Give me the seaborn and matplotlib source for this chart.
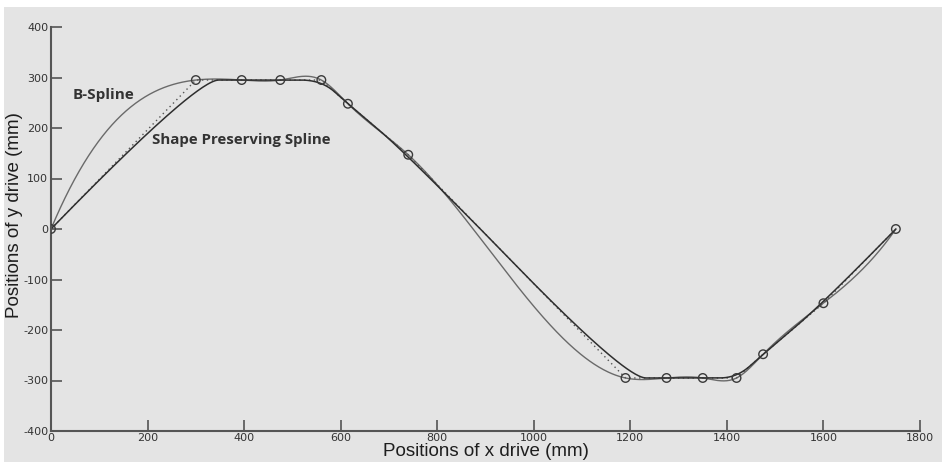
import numpy as np
import pandas as pd
import matplotlib
matplotlib.use("Agg")
import matplotlib.pyplot as plt
from matplotlib.patches import Rectangle
import seaborn as sns

# Data points (circles)
x_pts = [0, 300, 395, 475, 560, 615, 740, 1190, 1275, 1350, 1420, 1475, 1600, 1750]
y_pts = [0, 295, 295, 295, 295, 248, 147, -295, -295, -295, -295, -248, -147, 0]
x_ticks = [0, 200, 400, 600, 800, 1000, 1200, 1400, 1600, 1800]
y_ticks = [-400, -300, -200, -100, 0, 100, 200, 300, 400]
label_bspline = "B-Spline"
label_shape = "Shape Preserving Spline"


def spline_nak(t, v, s):
    """Not-a-knot cubic interpolating spline of the data points."""
    t = np.asarray(t, float); v = np.asarray(v, float)
    n = len(t); h = np.diff(t)
    A = np.zeros((n, n)); b = np.zeros(n)
    for i in range(1, n - 1):
        A[i, i - 1] = h[i - 1]; A[i, i] = 2 * (h[i - 1] + h[i]); A[i, i + 1] = h[i]
        b[i] = 6 * ((v[i + 1] - v[i]) / h[i] - (v[i] - v[i - 1]) / h[i - 1])
    A[0, 0] = -1 / h[0]; A[0, 1] = 1 / h[0] + 1 / h[1]; A[0, 2] = -1 / h[1]
    A[-1, -3] = -1 / h[-2]; A[-1, -2] = 1 / h[-2] + 1 / h[-1]; A[-1, -1] = -1 / h[-1]
    M = np.linalg.solve(A, b)
    i = np.clip(np.searchsorted(t, s) - 1, 0, n - 2)
    hh = h[i]
    a = (t[i + 1] - s) / hh; bb = (s - t[i]) / hh
    return a * v[i] + bb * v[i + 1] + ((a ** 3 - a) * M[i] + (bb ** 3 - bb) * M[i + 1]) * hh ** 2 / 6


def quad_bspline(px, py, k=60):
    """Clamped uniform quadratic B-spline using the data points as control points."""
    P = np.column_stack([px, py]).astype(float)
    mids = (P[1:-2] + P[2:-1]) / 2
    starts = [P[0]] + list(mids)
    ends = list(mids) + [P[-1]]
    out = []
    u = np.linspace(0, 1, k)[:, None]
    for a, c, e in zip(starts, P[1:-1], ends):
        out.append((1 - u) ** 2 * a + 2 * u * (1 - u) * c + u ** 2 * e)
    return np.vstack(out)


xs = np.linspace(0, 1750, 900)
df_spline = pd.DataFrame({"x": xs, "y": spline_nak(x_pts, y_pts, xs)})
bs = quad_bspline(x_pts, y_pts)
df_bs = pd.DataFrame({"x": bs[:, 0], "y": bs[:, 1]})
df_pts = pd.DataFrame({"x": x_pts, "y": y_pts})

sns.set_style("ticks")
plt.rcParams["font.family"] = ["DejaVu Sans"]
BG = "#e4e4e4"

fig = plt.figure(figsize=(9.42, 4.62), dpi=100)
fig.patch.set_facecolor("white")
fig.patches.append(Rectangle((4 / 942, 0), 1, 455 / 462, transform=fig.transFigure,
                             facecolor=BG, edgecolor="none", zorder=-10))
ax = fig.add_axes([51 / 942, 31 / 462, 869 / 942, 404 / 462])
ax.set_facecolor(BG)

sns.lineplot(data=df_spline, x="x", y="y", sort=False, estimator=None, ax=ax,
             color="#6a6a6a", lw=1.0)
sns.lineplot(data=df_pts, x="x", y="y", sort=False, estimator=None, ax=ax,
             color="#555555", lw=1.0, ls=(0, (1, 2.5)))
sns.lineplot(data=df_bs, x="x", y="y", sort=False, estimator=None, ax=ax,
             color="#2e2e2e", lw=1.1)
sns.scatterplot(data=df_pts, x="x", y="y", ax=ax, s=38, marker="o",
                facecolor="none", edgecolor="#3a3a3a", linewidth=1.0, zorder=5)

ax.set_xlim(0, 1800)
ax.set_ylim(-400, 400)
ax.set_xticks(x_ticks)
ax.set_yticks(y_ticks)
tick_font = ["Liberation Sans Narrow", "DejaVu Sans"]
ax.set_xticklabels([str(v) for v in x_ticks], family=tick_font, fontsize=8, color="#333333")
ax.set_yticklabels([str(v) for v in y_ticks], family=tick_font, fontsize=8, color="#333333")
ax.tick_params(direction="in", length=8, width=1.2, color="#555555", pad=2)
ax.tick_params(axis="x", pad=1.5)
for side in ["top", "right"]:
    ax.spines[side].set_visible(False)
for side in ["left", "bottom"]:
    ax.spines[side].set_color("#555555")
    ax.spines[side].set_linewidth(1.5)

lab_font = ["Liberation Sans", "DejaVu Sans"]
ax.set_xlabel("Positions of x drive (mm)", family=lab_font, fontsize=13.5, color="#1e1e1e",
              va="center")
ax.xaxis.set_label_coords(0.5, -0.0505)
ax.set_ylabel("Positions of y drive (mm)", family=lab_font, fontsize=13.5, color="#1e1e1e",
              va="center")
ax.yaxis.set_label_coords(-0.0425, 0.535)

txt_font = ["Open Sans", "DejaVu Sans"]
ax.text(45, 265, label_bspline, family=txt_font, fontweight="bold", fontsize=11,
        color="#333333", va="center", ha="left")
ax.text(209, 176, label_shape, family=txt_font, fontweight="bold", fontsize=10.8,
        color="#333333", va="center", ha="left")

fig.savefig("out.png", dpi=100, facecolor=fig.get_facecolor())
